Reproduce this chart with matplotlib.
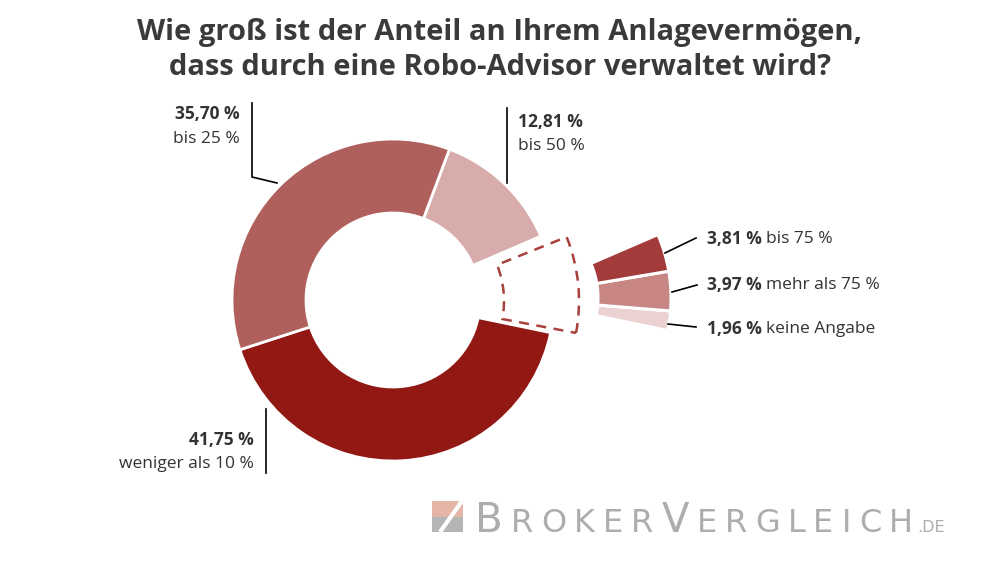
import numpy as np
import matplotlib
matplotlib.use('agg')
import matplotlib.pyplot as plt
from matplotlib.patches import Wedge, Polygon

plt.rcParams['font.family'] = ['Open Sans', 'DejaVu Sans']

# data
main_labels = ['weniger als 10 %', 'Rest', 'bis 50 %', 'bis 25 %']
main_values = [41.75, 9.74, 12.81, 35.70]
main_colors = ['#921814', 'none', '#d7acab', '#b0605c']

small_labels = ['keine Angabe', 'mehr als 75 %', 'bis 75 %']
small_values = [1.96, 3.97, 3.81]
small_colors = ['#ebd1d1', '#c78584', '#a23b3a']

title = 'Wie groß ist der Anteil an Ihrem Anlagevermögen,\ndass durch eine Robo-Advisor verwaltet wird?'

H = 562
def Y(y):
    return H - y

def pct(v):
    return ('%.2f %%' % v).replace('.', ',')

fig = plt.figure(figsize=(10, 5.62), dpi=100)
ax = fig.add_axes([0, 0, 1, 1])

start = 198
main_c = (393, Y(300))
w1, _ = ax.pie(main_values, startangle=start, center=main_c, radius=161,
               colors=main_colors, counterclock=True,
               wedgeprops=dict(width=74, edgecolor='white', linewidth=2))
w1[1].set_visible(False)

# dashed outline where the small slices would be
a0 = start + main_values[0] * 3.6
a1 = a0 + main_values[1] * 3.6
ax.add_patch(Wedge((407, Y(301)), 172, a0 + 1, a1 - 1.5, width=75, fill=False,
                   edgecolor='#a8403c', linewidth=1.8, linestyle=(0, (4, 3)), zorder=3))

# exploded small slices
rest = 100 - sum(small_values)
w2, _ = ax.pie(small_values + [rest], startangle=a0, center=(511, Y(298)), radius=160,
               colors=small_colors + ['none'], counterclock=True,
               wedgeprops=dict(width=73, edgecolor='white', linewidth=2.2))
w2[-1].set_visible(False)

ax.set_xlim(0, 1000)
ax.set_ylim(0, H)
ax.set_aspect('equal')
ax.axis('off')

fig.text(0.5, 1 - 50 / H, title, ha='center', va='center', fontsize=21,
         fontweight='bold', color='#3a3a3a', linespacing=1.28)

tc = '#333333'
fs = 12.5
renderer = fig.canvas.get_renderer()

# big slice labels
ax.text(240, Y(114), pct(main_values[3]), ha='right', va='center', fontsize=fs, fontweight='bold', color=tc)
ax.text(240, Y(139), main_labels[3], ha='right', va='center', fontsize=fs, color=tc)
ax.plot([252, 252, 277], [Y(103), Y(177), Y(183)], color='black', lw=1.2)

ax.text(518, Y(122), pct(main_values[2]), ha='left', va='center', fontsize=fs, fontweight='bold', color=tc)
ax.text(518, Y(146), main_labels[2], ha='left', va='center', fontsize=fs, color=tc)
ax.plot([507, 507], [Y(108), Y(183)], color='black', lw=1.2)

ax.text(254, Y(440), pct(main_values[0]), ha='right', va='center', fontsize=fs, fontweight='bold', color=tc)
ax.text(254, Y(464), main_labels[0], ha='right', va='center', fontsize=fs, color=tc)
ax.plot([266, 266], [Y(409), Y(473)], color='black', lw=1.2)

# small slice labels
small_y = [329, 285, 239]
small_lines = [((668, 324), (696, 327)), ((672, 292), (697, 285)), ((665, 253), (696, 238))]
for v, lab, y, (p0, p1) in zip(small_values, small_labels, small_y, small_lines):
    t = ax.text(707, Y(y), pct(v), ha='left', va='center', fontsize=fs, fontweight='bold', color=tc)
    bb = t.get_window_extent(renderer)
    ax.text(bb.x1 + 4, Y(y), lab, ha='left', va='center', fontsize=fs, color=tc)
    ax.plot([p0[0], p1[0]], [Y(p0[1]), Y(p1[1])], color='black', lw=1.2)

# watermark logo
lx, ly, ls = 432, Y(532), 31
ax.add_patch(Polygon([(lx, ly + ls * 0.5), (lx + ls, ly + ls * 0.5), (lx + ls, ly + ls), (lx, ly + ls)],
                     closed=True, facecolor='#e4b4a6', edgecolor='none'))
ax.add_patch(Polygon([(lx, ly), (lx + ls, ly), (lx + ls, ly + ls * 0.5), (lx, ly + ls * 0.5)],
                     closed=True, facecolor='#b5b5b5', edgecolor='none'))
ax.plot([lx + 8, lx + ls - 1], [ly, ly + ls], color='white', lw=3, solid_capstyle='butt')

# watermark text, small caps with letter tracking
wm = '#adadad'
wm_font = ['DejaVu Sans']
letters = [('B', 29)] + [(c, 23) for c in 'ROKER'] + [('V', 29)] + [(c, 23) for c in 'ERGLEICH']
objs = []
for c, fsz in letters:
    objs.append(ax.text(0, Y(532), c, ha='left', va='baseline', fontsize=fsz, color=wm,
                        family=wm_font, fontweight='normal'))
widths = [o.get_window_extent(renderer).width for o in objs]
x0, x1 = 475, 913
gap = (x1 - x0 - sum(widths)) / (len(objs) - 1)
x = x0
for o, w in zip(objs, widths):
    o.set_x(x)
    x += w + gap
ax.text(x1 + 4, Y(532), '.DE', ha='left', va='baseline', fontsize=11.5, color=wm,
        family=wm_font, fontweight='normal')

fig.savefig('out.png', dpi=100)
